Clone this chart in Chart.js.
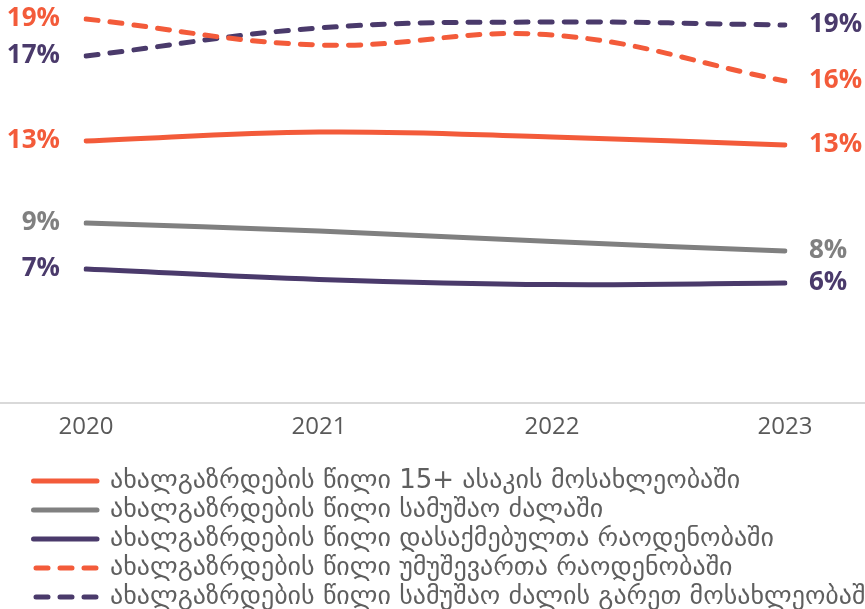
<!DOCTYPE html>
<html>
<head>
<meta charset="utf-8">
<script src="https://cdn.jsdelivr.net/npm/chart.js@4.4.0/dist/chart.umd.min.js"></script>
<style>
html, body { margin: 0; padding: 0; background: #ffffff; overflow: hidden; }
#wrap { width: 865px; height: 609px; }
</style>
</head>
<body>
<div id="wrap"><canvas id="line-chart"></canvas></div>
<script>
let years = ['2020', '2021', '2022', '2023'];
let series_names = [
	'ახალგაზრდების წილი 15+ ასაკის მოსახლეობაში',
	'ახალგაზრდების წილი სამუშაო ძალაში',
	'ახალგაზრდების წილი დასაქმებულთა რაოდენობაში',
	'ახალგაზრდების წილი უმუშევართა რაოდენობაში',
	'ახალგაზრდების წილი სამუშაო ძალის გარეთ მოსახლეობაში'
];
let population_share = [13.1, 13.55, 13.3, 12.9];
let labour_force_share = [9.0, 8.6, 8.07, 7.6];
let employed_share = [6.7, 6.18, 5.92, 6.0];
let unemployed_share = [19.2, 17.9, 18.4, 16.1];
let outside_labour_share = [17.35, 18.75, 19.05, 18.9];
let series_colors = ['#f35b3a', '#808080', '#4a3a6b', '#f35b3a', '#4a3a6b'];
let series_dashes = [[], [], [], [12, 12], [12, 12]];

let all_series = [population_share, labour_force_share, employed_share, unemployed_share, outside_labour_share];
let datasets = [];
for (var i = 0; i < all_series.length; i++) {
	datasets.push({
		label: series_names[i],
		data: all_series[i],
		borderColor: series_colors[i],
		backgroundColor: series_colors[i],
		borderDash: series_dashes[i],
		borderWidth: 5,
		borderCapStyle: 'round',
		pointRadius: 0,
		tension: 0.4
	});
}

//grey baseline across the whole width
let baseLine = {
	id: 'baseLine',
	beforeDatasetsDraw(chart) {
		let ctx = chart.ctx;
		let y = chart.scales.y.getPixelForValue(0);
		ctx.save();
		ctx.strokeStyle = '#d9d9d9';
		ctx.lineWidth = 2;
		ctx.beginPath();
		ctx.moveTo(0, y);
		ctx.lineTo(chart.width, y);
		ctx.stroke();
		ctx.restore();
	}
};

//first and last value labels
let endLabels = {
	id: 'endLabels',
	afterDatasetsDraw(chart) {
		let ctx = chart.ctx;
		ctx.save();
		ctx.font = 'bold 26px "Open Sans"';
		ctx.textBaseline = 'middle';
		chart.data.datasets.forEach((ds, i) => {
			let pts = chart.getDatasetMeta(i).data;
			let first = pts[0];
			let last = pts[pts.length - 1];
			ctx.fillStyle = ds.borderColor;
			ctx.textAlign = 'right';
			ctx.fillText(Math.round(ds.data[0]) + '%', first.x - 26, first.y);
			ctx.textAlign = 'left';
			ctx.fillText(Math.round(ds.data[ds.data.length - 1]) + '%', last.x + 24, last.y);
		});
		ctx.restore();
	}
};

let line_chart = new Chart(document.getElementById('line-chart'), {
	type: 'line',
	data: {
		labels: years,
		datasets: datasets
	},
	plugins: [baseLine, endLabels],
	options: {
		responsive: true,
		maintainAspectRatio: false,
		animation: false,
		layout: {
			padding: {left: 30.5, right: 0, top: 3, bottom: -11}
		},
		plugins: {
			tooltip: {enabled: false},
			legend: {
				position: 'bottom',
				align: 'start',
				labels: {
					usePointStyle: true,
					pointStyle: 'line',
					pointStyleWidth: 63.5,
					boxWidth: 63.5,
					padding: 3,
					color: '#5f5f5f',
					font: {family: '"DejaVu Sans"', size: 26},
					generateLabels: chart => chart.data.datasets.map((ds, i) => ({
						text: ds.label,
						fillStyle: ds.borderColor,
						strokeStyle: ds.borderColor,
						fontColor: '#5f5f5f',
						lineWidth: 5,
						lineCap: 'round',
						lineDash: ds.borderDash,
						lineDashOffset: 21.5,
						pointStyle: 'line',
						hidden: false,
						datasetIndex: i
					}))
				}
			}
		},
		scales: {
			x: {
				offset: false,
				grid: {display: false},
				border: {display: false},
				ticks: {
					color: '#595959',
					padding: 2,
					font: {family: '"Open Sans"', size: 24}
				},
				afterFit: s => { s.height = 62; }
			},
			y: {
				min: 0,
				max: 20,
				grid: {display: false},
				border: {display: false},
				ticks: {display: false},
				afterFit: s => { s.width = 55.5; }
			},
			y2: {
				position: 'right',
				grid: {display: false},
				border: {display: false},
				ticks: {display: false},
				afterFit: s => { s.width = 80; }
			}
		}
	}
});
</script>
</body>
</html>
